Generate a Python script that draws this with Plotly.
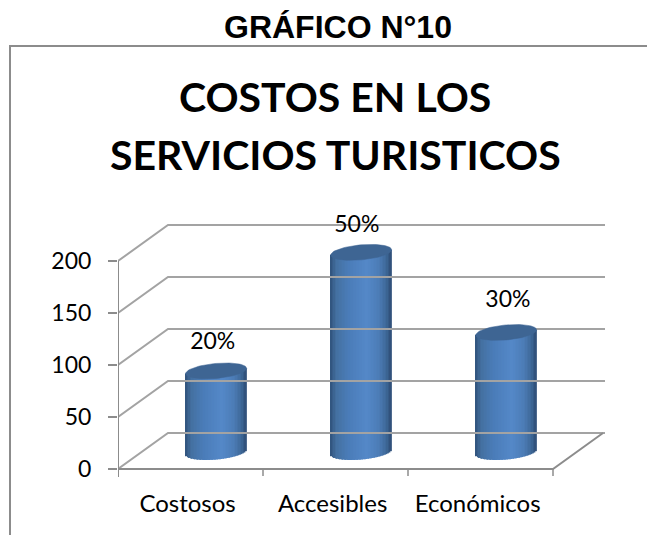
import numpy as np
import plotly.graph_objects as go

categories = ["Costosos", "Accesibles", "Económicos"]
values = [78, 192, 115]
labels = ["20%", "50%", "30%"]
y_ticks = [0, 50, 100, 150, 200]

# pixel layout of the plotting box
W, H = 647, 535
PX_L, PX_R, PX_T, PX_B = 118, 605, 210, 482
X_UNIT = 145.0            # px per category
Y_UNIT = 1.04             # px per value unit
Y0_PX = 469               # px of value 0

# 3-D look
DEPTH_X = 50 / X_UNIT
DEPTH_Y = 36 / Y_UNIT
BAR_SHIFT = 0.177
BASE = 16.3
RX = 30.5 / X_UNIT
RY = 7.5 / Y_UNIT
TILT = 2.6 / Y_UNIT
N_STRIPS = 40
GRID = "#a3a3a3"
AXIS = "#8c8c8c"
TOP_COLOR = "#3e6593"
stops_t = [-1.0, -0.8, -0.4, 0.2, 0.6, 0.85, 1.0]
stops_rgb = np.array([[48, 82, 124], [68, 112, 160], [74, 124, 184], [84, 136, 200],
                      [76, 124, 182], [62, 104, 152], [46, 78, 118]], float)

x_pos = np.arange(len(categories))
vals = np.array(values, float)
x_min = -0.5
x_max = x_min + (PX_R - PX_L) / X_UNIT
y_min = (Y0_PX - PX_B) / Y_UNIT
y_max = (Y0_PX - PX_T) / Y_UNIT

fig = go.Figure()

# walls / floor
gx, gy = [], []
for t in y_ticks:
    gx += [x_min, x_min + DEPTH_X, x_max, None]
    gy += [t, t + DEPTH_Y, t + DEPTH_Y, None]
fig.add_trace(go.Scatter(x=gx, y=gy, mode="lines", line=dict(color=GRID, width=2),
                         hoverinfo="skip", showlegend=False))
x_right = x_pos[-1] + 0.5
fig.add_trace(go.Scatter(x=[x_min, x_min, None, x_min, x_right, x_right + DEPTH_X],
                         y=[y_ticks[0] - 8 / Y_UNIT, y_ticks[-1], None, 0, 0, DEPTH_Y],
                         mode="lines", line=dict(color=AXIS, width=2),
                         hoverinfo="skip", showlegend=False))
# category boundary ticks
tx, ty = [], []
for b in np.append(x_pos - 0.5, x_right):
    tx += [b, b, None]
    ty += [0, -7 / Y_UNIT, None]
fig.add_trace(go.Scatter(x=tx, y=ty, mode="lines", line=dict(color=AXIS, width=1.5),
                         hoverinfo="skip", showlegend=False))

# cylinder bodies, as thin overlaid bars with shaded colour
edges = np.linspace(-1, 1, N_STRIPS + 1)
centers = (edges[:-1] + edges[1:]) / 2
for t in centers:
    rgb = [np.interp(t, stops_t, stops_rgb[:, k]) for k in range(3)]
    arc = np.sqrt(max(0.0, 1 - t * t))
    bottom = BASE - RY * arc + TILT * t
    top = BASE + vals + TILT * t
    fig.add_trace(go.Bar(x=x_pos + BAR_SHIFT + t * RX, y=top - bottom, base=bottom,
                         width=2 * RX / N_STRIPS * 1.25,
                         marker=dict(color=f"rgb({rgb[0]:.0f},{rgb[1]:.0f},{rgb[2]:.0f})", line=dict(width=0)),
                         hoverinfo="skip", showlegend=False))

# cylinder tops
theta = np.linspace(0, 2 * np.pi, 73)
for xp, v in zip(x_pos, vals):
    fig.add_trace(go.Scatter(x=xp + BAR_SHIFT + RX * np.cos(theta),
                             y=BASE + v + RY * np.sin(theta) + TILT * np.cos(theta),
                             mode="lines", fill="toself", fillcolor=TOP_COLOR,
                             line=dict(color=TOP_COLOR, width=0.5),
                             hoverinfo="skip", showlegend=False))

# data labels
label_dy = [27, 25, 30]
label_dx = [-0.024, -0.03, 0.012]
fig.add_trace(go.Scatter(x=x_pos + BAR_SHIFT + np.array(label_dx),
                         y=BASE + vals + np.array(label_dy),
                         mode="text", text=labels, textposition="middle center",
                         textfont=dict(family="Lato", size=23, color="#000000"),
                         hoverinfo="skip", showlegend=False))

fig.update_layout(
    width=W, height=H, autosize=False,
    margin=dict(l=0, r=0, t=0, b=0),
    paper_bgcolor="white", plot_bgcolor="white",
    barmode="overlay", showlegend=False,
    xaxis=dict(domain=[PX_L / W, PX_R / W], range=[x_min, x_max], showgrid=False, zeroline=False,
               showline=False, tickmode="array", tickvals=list(x_pos - 0.02), ticktext=categories,
               ticks="", ticklabelstandoff=5,
               tickfont=dict(family="Lato", size=24, color="#000000")),
    yaxis=dict(domain=[(H - PX_B) / H, (H - PX_T) / H], range=[y_min, y_max], showgrid=False,
               zeroline=False, showline=False, tickmode="array", tickvals=y_ticks,
               ticks="outside", ticklen=9, tickwidth=2, tickcolor=AXIS, ticklabelstandoff=12,
               tickfont=dict(family="Lato", size=23, color="#000000")),
    shapes=[
        dict(type="line", xref="paper", yref="paper", x0=9 / W, x1=1, y0=1 - 46 / H, y1=1 - 46 / H,
             line=dict(color="#8c8c8c", width=2)),
        dict(type="line", xref="paper", yref="paper", x0=10 / W, x1=10 / W, y0=0, y1=1 - 46 / H,
             line=dict(color="#8c8c8c", width=2)),
    ],
    annotations=[
        dict(text="<b>GRÁFICO N°10</b>", xref="paper", yref="paper", x=338 / W, y=1 - 27 / H,
             showarrow=False, xanchor="center", yanchor="middle",
             font=dict(family="Liberation Sans", size=32, color="#000000")),
        dict(text="<b>COSTOS EN LOS</b>", xref="paper", yref="paper", x=335 / W, y=1 - 97 / H,
             showarrow=False, xanchor="center", yanchor="middle",
             font=dict(family="Lato", size=41, color="#000000")),
        dict(text="<b>SERVICIOS TURISTICOS</b>", xref="paper", yref="paper", x=335 / W, y=1 - 155 / H,
             showarrow=False, xanchor="center", yanchor="middle",
             font=dict(family="Lato", size=41, color="#000000")),
    ],
)

fig.write_html("out.html", post_script="document.body.style.margin='0';",
               config={"displayModeBar": False})
